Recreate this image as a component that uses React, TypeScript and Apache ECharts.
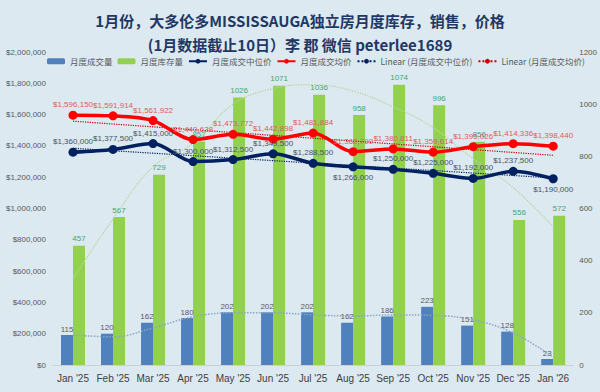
import React, { useEffect, useRef } from "react";
import * as echarts from "echarts";

const categories = ["Jan '25", "Feb '25", "Mar '25", "Apr '25", "May '25", "Jun '25", "Jul '25", "Aug '25", "Sep '25", "Oct '25", "Nov '25", "Dec '25", "Jan '26"];
const salesVolume = [115, 120, 162, 180, 202, 202, 202, 162, 186, 223, 151, 128, 23];
const inventory = [457, 567, 729, 857, 1026, 1071, 1036, 958, 1074, 996, 856, 556, 572];
const medianPrice = [1360000, 1377500, 1415000, 1300000, 1312500, 1349500, 1288500, 1266000, 1250000, 1225000, 1192000, 1237500, 1190000];
const averagePrice = [1596150, 1591914, 1561922, 1440638, 1473772, 1442898, 1481884, 1362799, 1380811, 1359614, 1395026, 1414336, 1398440];
const medianLabelBelow = ["Aug '25", "Jan '26"];
// trend lines
const salesTrend = [115, 108, 142, 185, 200, 200, 192, 188, 192, 190, 173, 123, 30];
const inventoryTrend = [330, 560, 760, 850, 1000, 1060, 1075, 1050, 990, 910, 790, 680, 530];
const medianLinear = [1385000, 1195000];
const averageLinear = [1558000, 1340000];
const leftTicks = { min: 0, max: 2000000, interval: 200000 };
const rightTicks = { min: 0, max: 1200, interval: 200 };

const numFont = "'Liberation Sans Narrow', 'Liberation Sans', Arial, sans-serif";
const cjkFont = "'Noto Sans CJK SC', 'Noto Sans', sans-serif";
const money = (v: number) => "$" + Number(v).toLocaleString("en-US");

export default function App() {
  const ref = useRef<HTMLDivElement>(null);
  useEffect(() => {
    if (!ref.current) return;
    const chart = echarts.init(ref.current, undefined, { renderer: "svg" });
    const last = categories.length - 1;
    chart.setOption({
      animation: false,
      title: {
        text: "1月份，大多伦多MISSISSAUGA独立房月度库存，销售，价格\n(1月数据截止10日）李 郡 微信 peterlee1689",
        left: "center",
        top: 3,
        textStyle: { fontSize: 15, fontWeight: "bold", color: "#1f3864", lineHeight: 24, fontFamily: cjkFont },
      },
      legend: {
        top: 52,
        left: 42,
        width: 558,
        itemWidth: 18,
        itemHeight: 6,
        itemGap: 5,
        textStyle: { fontSize: 8.5, color: "#595959", fontFamily: cjkFont },
        data: ["月度成交量", "月度库存量", "月度成交中位价", "月度成交均价", "Linear (月度成交中位价)", "Linear (月度成交均价)"],
      },
      grid: { left: 53, right: 23, top: 52, bottom: 27 },
      xAxis: {
        type: "category",
        data: categories,
        axisTick: { show: false },
        axisLine: { lineStyle: { color: "#c8d0d8" } },
        axisLabel: { interval: 0, color: "#404040", fontSize: 10, margin: 8, fontFamily: "'Liberation Sans', Arial, sans-serif" },
      },
      yAxis: [
        {
          type: "value",
          ...leftTicks,
          splitLine: { show: false },
          axisLine: { show: false },
          axisLabel: { formatter: money, fontSize: 8, color: "#595959", margin: 7, fontFamily: numFont },
        },
        {
          type: "value",
          ...rightTicks,
          splitLine: { show: false },
          axisLine: { show: false },
          axisLabel: { formatter: (v: number) => String(v), fontSize: 8, color: "#595959", margin: 6, fontFamily: numFont },
        },
      ],
      series: [
        {
          name: "月度成交量",
          type: "bar",
          yAxisIndex: 1,
          data: salesVolume,
          barWidth: 12,
          barGap: "0%",
          itemStyle: { color: "#4f81bd" },
          label: { show: true, position: "top", distance: 2, fontSize: 8, color: "#595959", fontFamily: numFont },
          z: 1,
        },
        {
          name: "月度库存量",
          type: "bar",
          yAxisIndex: 1,
          data: inventory,
          barWidth: 12,
          barGap: "0%",
          itemStyle: { color: "#92d050" },
          label: { show: true, position: "top", distance: 3, fontSize: 8, color: "#3fa66e", fontFamily: numFont },
          z: 1,
        },
        {
          name: "salesTrend",
          type: "line",
          yAxisIndex: 1,
          data: salesTrend,
          smooth: 0.4,
          symbol: "none",
          silent: true,
          lineStyle: { type: "dotted", width: 1.5, color: "#8aa5c6" },
          z: 2,
        },
        {
          name: "inventoryTrend",
          type: "line",
          yAxisIndex: 1,
          data: inventoryTrend,
          smooth: 0.4,
          symbol: "none",
          silent: true,
          lineStyle: { type: "dotted", width: 1.3, color: "#b5d79a" },
          z: 2,
        },
        {
          name: "Linear (月度成交中位价)",
          type: "line",
          yAxisIndex: 0,
          data: [[0, medianLinear[0]], [last, medianLinear[1]]],
          symbol: "none",
          itemStyle: { color: "#002060" },
          lineStyle: { type: "dotted", width: 1.2, color: "#002060" },
          z: 3,
        },
        {
          name: "Linear (月度成交均价)",
          type: "line",
          yAxisIndex: 0,
          data: [[0, averageLinear[0]], [last, averageLinear[1]]],
          symbol: "none",
          itemStyle: { color: "#c00000" },
          lineStyle: { type: "dotted", width: 1.2, color: "#c00000" },
          z: 3,
        },
        {
          name: "月度成交中位价",
          type: "line",
          yAxisIndex: 0,
          data: medianPrice.map((v, i) => ({
            value: v,
            label: { position: medianLabelBelow.includes(categories[i]) ? "bottom" : "top" },
          })),
          smooth: 0.3,
          symbol: "circle",
          symbolSize: 9,
          itemStyle: { color: "#002060" },
          lineStyle: { width: 3.5, color: "#002060" },
          label: { show: true, distance: 2, fontSize: 8, color: "#44546a", fontFamily: numFont, formatter: (p: any) => money(p.value) },
          z: 4,
        },
        {
          name: "月度成交均价",
          type: "line",
          yAxisIndex: 0,
          data: averagePrice,
          smooth: 0.3,
          symbol: "circle",
          symbolSize: 9,
          itemStyle: { color: "#ff0000" },
          lineStyle: { width: 3.5, color: "#ff0000" },
          label: { show: true, position: "top", distance: 2, fontSize: 8, color: "#e05a5a", fontFamily: numFont, formatter: (p: any) => money(p.value) },
          z: 4,
        },
      ],
    });
    return () => chart.dispose();
  }, []);
  return (
    <div style={{ position: "fixed", left: 0, top: 0, width: 600, height: 392, background: "#dce9f1" }}>
      <div ref={ref} style={{ width: 600, height: 392 }} />
    </div>
  );
}
